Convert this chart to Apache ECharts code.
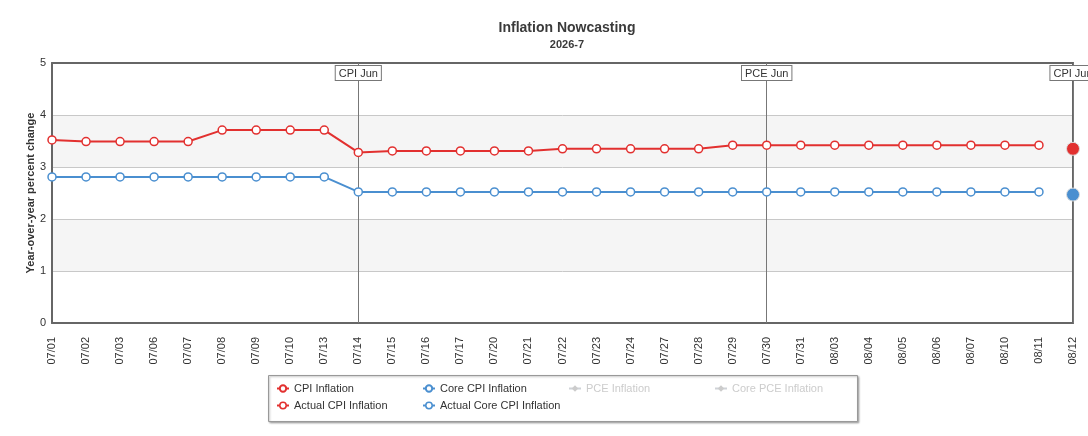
<!DOCTYPE html>
<html><head><meta charset="utf-8">
<script src="https://cdn.jsdelivr.net/npm/echarts@6/dist/echarts.min.js"></script>
<style>html,body{margin:0;padding:0;background:#fff}#c{width:1088px;height:436px}</style>
</head><body><div id="c"></div>
<script>
const categories = ['07/01','07/02','07/03','07/06','07/07','07/08','07/09','07/10','07/13','07/14','07/15','07/16','07/17','07/20','07/21','07/22','07/23','07/24','07/27','07/28','07/29','07/30','07/31','08/03','08/04','08/05','08/06','08/07','08/10','08/11','08/12'];
const cpi = [3.52,3.49,3.49,3.49,3.49,3.71,3.71,3.71,3.71,3.28,3.31,3.31,3.31,3.31,3.31,3.35,3.35,3.35,3.35,3.35,3.42,3.42,3.42,3.42,3.42,3.42,3.42,3.42,3.42,3.42,null];
const coreCpi = [2.81,2.81,2.81,2.81,2.81,2.81,2.81,2.81,2.81,2.52,2.52,2.52,2.52,2.52,2.52,2.52,2.52,2.52,2.52,2.52,2.52,2.52,2.52,2.52,2.52,2.52,2.52,2.52,2.52,2.52,null];
const actualCpi = [{date:'08/12', value:3.35}];
const actualCoreCpi = [{date:'08/12', value:2.47}];
const releases = [{date:'07/14', label:'CPI Jun'},{date:'07/30', label:'PCE Jun'},{date:'08/12', label:'CPI Jun'}];
const yTicks = [0,1,2,3,4,5];
const legendColumns = [
  ['CPI Inflation','Actual CPI Inflation'],
  ['Core CPI Inflation','Actual Core CPI Inflation'],
  ['PCE Inflation'],
  ['Core PCE Inflation']
];
const hiddenSeries = ['PCE Inflation','Core PCE Inflation'];

const RED = '#e2302f', BLUE = '#4a8fd0';
const font = 'Liberation Sans, Arial, sans-serif';
function toSeries(arr){ return categories.map(c => { const f = arr.find(a => a.date === c); return f ? f.value : null; }); }
const borderLine = {show:true, onZero:false, lineStyle:{color:'#666', width:2}};
const legendItemStyle = {
  'Actual CPI Inflation': {color:'#fff', borderColor:RED, borderWidth:1.5},
  'Actual Core CPI Inflation': {color:'#fff', borderColor:BLUE, borderWidth:1.5}
};
const colLeft = [276, 422, 568, 714];
const legends = legendColumns.map((names, i) => ({
  left: colLeft[i], top: 383, orient:'vertical', padding:0, itemGap:6, itemWidth:12, itemHeight:8,
  inactiveColor:'#ccc', z:5,
  textStyle:{fontSize:11, color:'#333', fontFamily:font},
  selected: Object.fromEntries(names.map(n => [n, !hiddenSeries.includes(n)])),
  data: names.map(n => legendItemStyle[n] ? {name:n, itemStyle:legendItemStyle[n]} : {name:n})
}));

const chart = echarts.init(document.getElementById('c'), null, {renderer:'canvas'});
chart.setOption({
  animation:false,
  textStyle:{fontFamily:font},
  title:{text:'Inflation Nowcasting', subtext:'2026-7', left:562, top:16, textAlign:'center', itemGap:4,
    textStyle:{fontSize:14, fontWeight:'bold', color:'#3a3a3a', fontFamily:font},
    subtextStyle:{fontSize:11, fontWeight:'bold', color:'#3a3a3a', fontFamily:font}},
  grid:{left:52, right:15, top:63, bottom:113, containLabel:false},
  graphic:[{type:'rect', left:268, top:375, z:1, silent:true,
    shape:{width:589, height:46},
    style:{fill:'#fff', stroke:'#999', lineWidth:1, shadowColor:'rgba(0,0,0,0.3)', shadowBlur:2, shadowOffsetX:1, shadowOffsetY:1}}],
  legend: legends,
  xAxis:[{type:'category', data:categories, boundaryGap:false,
    axisLine:borderLine, axisTick:{show:false},
    axisLabel:{rotate:90, interval:0, margin:14, fontSize:11, color:'#333', fontFamily:font},
    splitLine:{show:false}},
    {type:'category', data:categories, boundaryGap:false, position:'top',
    axisLine:borderLine, axisTick:{show:false}, axisLabel:{show:false}, splitLine:{show:false}}],
  yAxis:[{type:'value', min:yTicks[0], max:yTicks[yTicks.length-1], interval:1,
    name:'Year-over-year percent change', nameLocation:'middle', nameGap:16, nameMoveOverlap:false,
    nameTextStyle:{fontSize:11, fontWeight:'bold', color:'#333', fontFamily:font},
    axisLine:borderLine, axisTick:{show:false},
    axisLabel:{fontSize:11, color:'#333', margin:6, fontFamily:font},
    splitLine:{lineStyle:{color:'#c8c8c8', width:1}},
    splitArea:{show:true, areaStyle:{color:['#ffffff','#f5f5f5']}}},
    {type:'value', min:yTicks[0], max:yTicks[yTicks.length-1], interval:1, position:'right',
    axisLine:borderLine, axisTick:{show:false}, axisLabel:{show:false}, splitLine:{show:false}}],
  series:[
    {name:'CPI Inflation', type:'line', data:cpi, color:RED, symbol:'circle', symbolSize:8, showAllSymbol:true,
      lineStyle:{width:2, color:RED}, itemStyle:{color:'#fff', borderColor:RED, borderWidth:1.5}, z:3,
      markLine:{silent:true, symbol:['none','none'], z:1,
        lineStyle:{color:'#777', width:1, type:'solid'},
        label:{show:true, position:'end', distance:-17, formatter:p=>p.name, fontSize:11, color:'#333',
          backgroundColor:'#fff', borderColor:'#777', borderWidth:1, padding:[2,3,1,3], fontFamily:font},
        data: releases.map(r => ({xAxis:r.date, name:r.label}))}},
    {name:'Core CPI Inflation', type:'line', data:coreCpi, color:BLUE, symbol:'circle', symbolSize:8, showAllSymbol:true,
      lineStyle:{width:2, color:BLUE}, itemStyle:{color:'#fff', borderColor:BLUE, borderWidth:1.5}, z:3},
    {name:'PCE Inflation', type:'line', data:[], symbol:'diamond', color:'#ccc'},
    {name:'Core PCE Inflation', type:'line', data:[], symbol:'diamond', color:'#ccc'},
    {name:'Actual CPI Inflation', type:'line', data:toSeries(actualCpi), color:RED, symbol:'circle', symbolSize:13,
      lineStyle:{width:2, color:RED}, itemStyle:{color:RED, borderColor:'#ddd', borderWidth:1}, z:6},
    {name:'Actual Core CPI Inflation', type:'line', data:toSeries(actualCoreCpi), color:BLUE, symbol:'circle', symbolSize:13,
      lineStyle:{width:2, color:BLUE}, itemStyle:{color:BLUE, borderColor:'#ddd', borderWidth:1}, z:6}
  ]
});
</script></body></html>
